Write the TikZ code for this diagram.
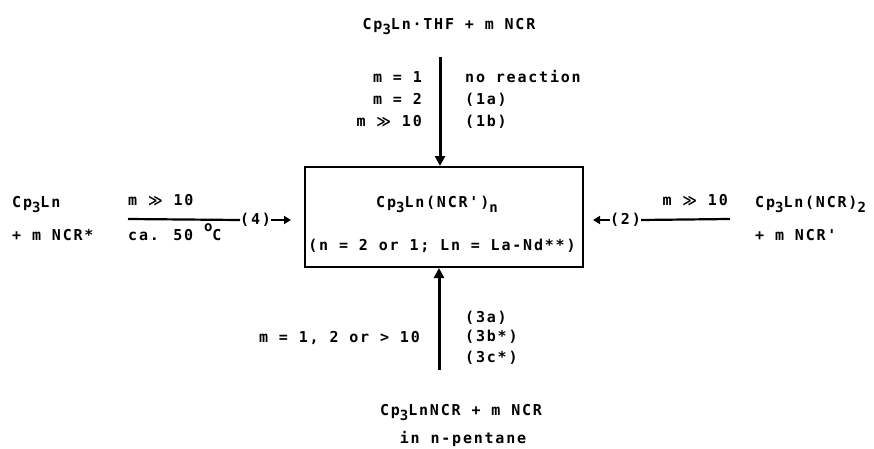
\documentclass[tikz,border=0pt]{standalone}
\usepackage{fontspec}
\setmainfont{DejaVu Sans Mono}[LetterSpace=12,Ligatures=TeXOff]
\newfontfamily\symf{DejaVu Sans}
\usetikzlibrary{arrows.meta}
\newcommand\sbs[1]{\raisebox{-5pt}{\fontsize{14}{14}\selectfont #1}}
\newcommand\mgg{{\symf\fontsize{14}{14}\selectfont ≫}}
\tikzset{
  txt/.style={inner sep=0pt,font=\fontsize{15}{15}\selectfont\bfseries},
  bw/.style={txt,anchor=base west},
  be/.style={txt,anchor=base east},
  bb/.style={txt,anchor=base},
  bigarrow/.style={line width=3pt,-{Triangle[length=10pt,width=10pt]}},
  smallarrow/.style={line width=2.2pt,-{Triangle[length=7pt,width=8pt]}},
  rule/.style={line width=2.2pt},
  boxst/.style={draw,line width=2pt,minimum width=278pt,minimum height=100pt,inner sep=0pt}
}
\begin{document}
\begin{tikzpicture}[x=1pt,y=1pt]
\useasboundingbox (0,0) rectangle (874,448);
% product box
\node[boxst] (box) at (444,231) {};
\node[bb] (p1) at (437,241) {Cp\sbs{3}Ln(NCR')\sbs{n}};
\node[bb] (p2) at (442,198) {(n = 2 or 1; Ln = La-Nd**)};
% top
\node[bb] (top) at (449,418) {Cp\sbs{3}Ln·THF + m NCR};
\coordinate (ta) at (440,391);
\draw[bigarrow] (ta) -- (box.north -| ta);
\node[be] (m1) at (422,365) {m =  1};
\node[be] (m2) at (422,343) {m =  2};
\node[be] (m3) at (422,322) {m \mgg{} 10};
\node[bw] (r1) at (465,365) {no reaction};
\node[bw] (r2) at (465,343) {(1a)};
\node[bw] (r3) at (465,322) {(1b)};
% left
\node[bw] (l1) at (12,241) {Cp\sbs{3}Ln};
\node[bw] (l2) at (12,208) {+ m NCR*};
\node[bw] (lm) at (128,243) {m \mgg{} 10};
\node[bw] (lc) at (128,208) {ca. 50 \raisebox{9pt}{\fontsize{14}{14}\selectfont o}C};
\coordinate (ls) at (128,229);
\node[txt,anchor=west] (c4) at (240,228) {(4)};
\coordinate (a4) at (291,228);
\draw[rule] (ls) -- (c4.west);
\draw[smallarrow] (c4.east) -- (a4);
% right
\node[bw] (rr1) at (755,241) {Cp\sbs{3}Ln(NCR)\sbs{2}};
\node[bw] (rr2) at (755,208) {+ m NCR'};
\node[be] (rm) at (728,243) {m \mgg{} 10};
\coordinate (rs) at (730,229);
\node[txt,anchor=east] (c2) at (641,228) {(2)};
\coordinate (a2) at (593,228);
\draw[rule] (rs) -- (c2.east);
\draw[smallarrow] (c2.west) -- (a2);
% bottom
\node[bb] (b1) at (461,33) {Cp\sbs{3}LnNCR + m NCR};
\node[bb] (b2) at (463,5) {in n-pentane};
\coordinate (ba) at (439,78);
\draw[bigarrow] (ba) -- (box.south -| ba);
\node[be] (bm) at (420,106) {m = 1, 2 or > 10};
\node[bw] (b3a) at (465,126) {(3a)};
\node[bw] (b3b) at (465,107) {(3b*)};
\node[bw] (b3c) at (465,86) {(3c*)};
\end{tikzpicture}
\end{document}
